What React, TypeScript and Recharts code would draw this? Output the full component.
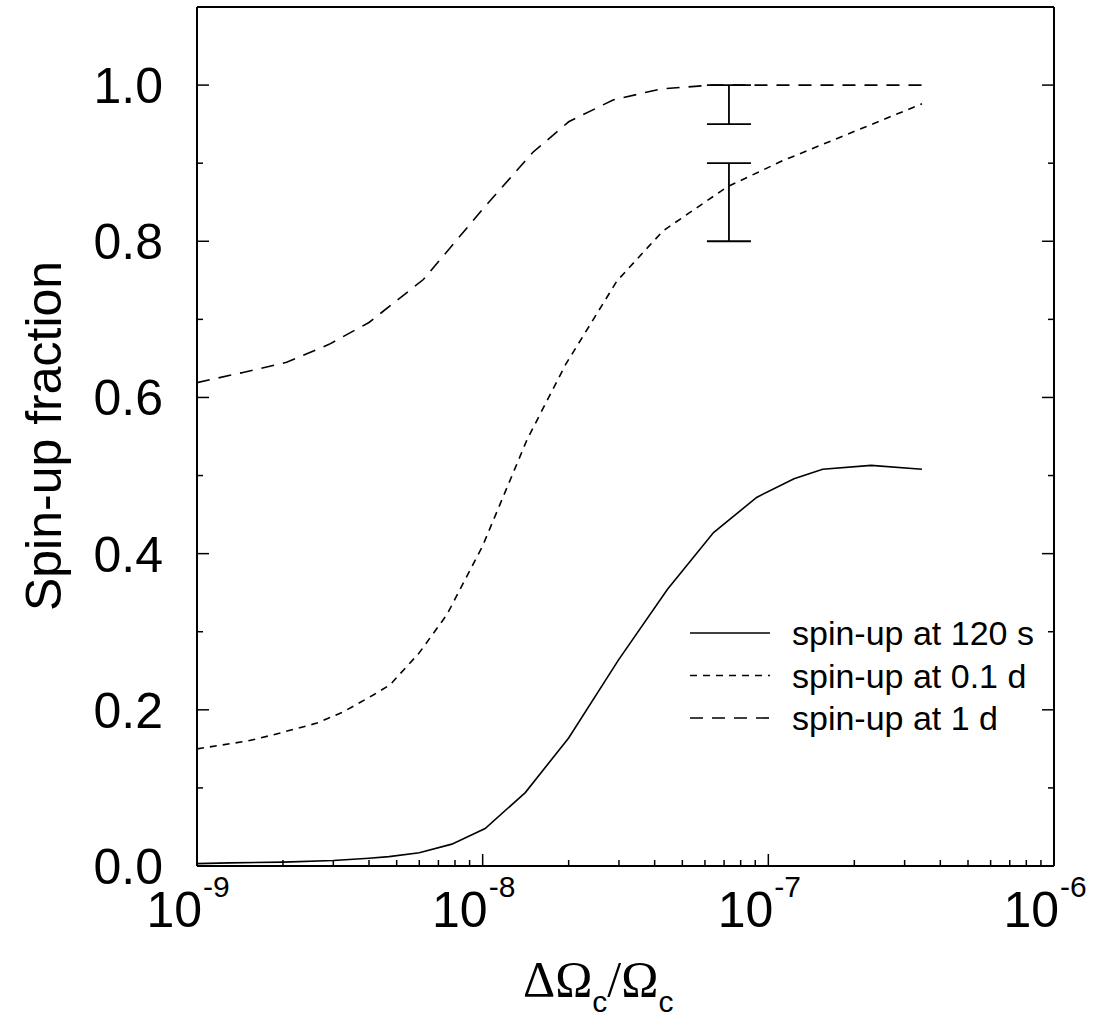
import React from "react";
import {
  ComposedChart,
  Line,
  Scatter,
  ErrorBar,
  XAxis,
  YAxis,
  Legend,
} from "recharts";

const sans = '"Liberation Sans", Arial, Helvetica, sans-serif';
const serif = '"Liberation Serif", "Times New Roman", Times, serif';

// spin-up fraction vs dOmega_c / Omega_c
const spin120s = [
  { x: 1e-9, y: 0.003 },
  { x: 1.3e-9, y: 0.004 },
  { x: 2e-9, y: 0.005 },
  { x: 3e-9, y: 0.007 },
  { x: 4e-9, y: 0.01 },
  { x: 4.7e-9, y: 0.012 },
  { x: 6e-9, y: 0.017 },
  { x: 7.8e-9, y: 0.028 },
  { x: 1.02e-8, y: 0.048 },
  { x: 1.41e-8, y: 0.094 },
  { x: 2.0e-8, y: 0.164 },
  { x: 2.99e-8, y: 0.264 },
  { x: 4.43e-8, y: 0.354 },
  { x: 6.43e-8, y: 0.427 },
  { x: 9.1e-8, y: 0.472 },
  { x: 1.23e-7, y: 0.496 },
  { x: 1.55e-7, y: 0.508 },
  { x: 2.29e-7, y: 0.513 },
  { x: 3.45e-7, y: 0.508 },
];

const spin01d = [
  { x: 1e-9, y: 0.15 },
  { x: 1.5e-9, y: 0.16 },
  { x: 1.85e-9, y: 0.168 },
  { x: 2.63e-9, y: 0.183 },
  { x: 3.24e-9, y: 0.197 },
  { x: 4.14e-9, y: 0.219 },
  { x: 4.74e-9, y: 0.232 },
  { x: 6e-9, y: 0.273 },
  { x: 7.5e-9, y: 0.322 },
  { x: 1.0e-8, y: 0.41 },
  { x: 1.43e-8, y: 0.546 },
  { x: 1.95e-8, y: 0.642 },
  { x: 2.95e-8, y: 0.749 },
  { x: 4.27e-8, y: 0.813 },
  { x: 7.2e-8, y: 0.87 },
  { x: 1.12e-7, y: 0.903 },
  { x: 3.45e-7, y: 0.976 },
];

const spin1d = [
  { x: 1e-9, y: 0.619 },
  { x: 1.45e-9, y: 0.632 },
  { x: 2.06e-9, y: 0.645 },
  { x: 2.9e-9, y: 0.668 },
  { x: 4.0e-9, y: 0.696 },
  { x: 6.2e-9, y: 0.751 },
  { x: 1.0e-8, y: 0.841 },
  { x: 1.5e-8, y: 0.914 },
  { x: 2.0e-8, y: 0.953 },
  { x: 2.86e-8, y: 0.981 },
  { x: 4.2e-8, y: 0.995 },
  { x: 6.3e-8, y: 1.0 },
  { x: 3.45e-7, y: 1.0 },
];

// observed ranges drawn as error bars
const observed = [
  { x: 7.28e-8, y: 0.975, err: 0.025 },
  { x: 7.28e-8, y: 0.85, err: 0.05 },
];

const series = [
  { name: "spin-up at 120 s", data: spin120s, dash: undefined },
  { name: "spin-up at 0.1 d", data: spin01d, dash: "7 6" },
  { name: "spin-up at 1 d", data: spin1d, dash: "13 9" },
];

const xMajor = [1e-9, 1e-8, 1e-7, 1e-6];
const xExponents = ["-9", "-8", "-7", "-6"];
const xMinorMult = [2, 3, 4, 5, 6, 7, 8, 9];
const xTicks = [
  ...xMajor,
  ...xMajor.slice(0, 3).flatMap((d) => xMinorMult.map((m) => m * d)),
];
const yTicks = [0, 0.1, 0.2, 0.3, 0.4, 0.5, 0.6, 0.7, 0.8, 0.9, 1.0];

const isMajorY = (v: number) => Math.round(v * 10) % 2 === 0;

function BottomTick(props: any) {
  const { x, y, payload } = props;
  const idx = xMajor.indexOf(payload.value);
  const major = idx >= 0;
  return (
    <g>
      <line x1={x} x2={x} y1={y} y2={y - (major ? 12 : 6)} stroke="#000" strokeWidth={1.5} />
      {major && (
        <>
          <text x={x + 5} y={y + 61} textAnchor="end" fontSize={50} fontFamily={sans} fill="#000">
            10
          </text>
          <text x={x + 6} y={y + 31} textAnchor="start" fontSize={30} fontFamily={sans} fill="#000">
            {xExponents[idx]}
          </text>
        </>
      )}
    </g>
  );
}

function TopTick(props: any) {
  const { x, y, payload } = props;
  const major = xMajor.indexOf(payload.value) >= 0;
  return <line x1={x} x2={x} y1={y} y2={y + (major ? 12 : 6)} stroke="#000" strokeWidth={1.5} />;
}

function LeftTick(props: any) {
  const { x, y, payload } = props;
  const major = isMajorY(payload.value);
  return (
    <g>
      <line x1={x} x2={x + (major ? 12 : 6)} y1={y} y2={y} stroke="#000" strokeWidth={1.5} />
      {major && (
        <text x={x - 34} y={y + 18} textAnchor="end" fontSize={50} fontFamily={sans} fill="#000">
          {payload.value.toFixed(1)}
        </text>
      )}
    </g>
  );
}

function RightTick(props: any) {
  const { x, y, payload } = props;
  const major = isMajorY(payload.value);
  return <line x1={x} x2={x - (major ? 12 : 6)} y1={y} y2={y} stroke="#000" strokeWidth={1.5} />;
}

function LegendBox() {
  return (
    <svg width={380} height={140}>
      {series.map((s, i) => {
        const cy = 33 + 42.5 * i;
        return (
          <g key={s.name}>
            <line x1={10} x2={90} y1={cy} y2={cy} stroke="#000" strokeWidth={1.6} strokeDasharray={s.dash} />
            <text x={112} y={cy + 12} fontSize={34} fontFamily={sans} fill="#000">
              {s.name}
            </text>
          </g>
        );
      })}
    </svg>
  );
}

const axisLine = { stroke: "#000", strokeWidth: 2 };

export default function App() {
  return (
    <div style={{ position: "absolute", left: 0, top: 0, background: "#fff" }}>
      <ComposedChart width={1094} height={1019} margin={{ top: 0, right: 0, bottom: 0, left: 0 }}>
        <XAxis
          dataKey="x"
          type="number"
          scale="log"
          domain={[1e-9, 1e-6]}
          allowDataOverflow
          ticks={xTicks}
          interval={0}
          tick={<BottomTick />}
          tickLine={false}
          tickSize={0}
          tickMargin={0}
          height={153}
          axisLine={axisLine}
          label={{
            content: () => (
              <text x={523} y={996} fontSize={50} fontFamily={serif} fill="#000">
                ΔΩ
                <tspan fontSize={30} fontFamily={sans} dy={16}>c</tspan>
                <tspan fontSize={50} fontFamily={serif} dy={-16}>/Ω</tspan>
                <tspan fontSize={30} fontFamily={sans} dy={16}>c</tspan>
              </text>
            ),
          }}
        />
        <XAxis
          xAxisId="top"
          orientation="top"
          type="number"
          scale="log"
          domain={[1e-9, 1e-6]}
          allowDataOverflow
          ticks={xTicks}
          interval={0}
          tick={<TopTick />}
          tickLine={false}
          tickSize={0}
          tickMargin={0}
          height={7}
          axisLine={axisLine}
        />
        <YAxis
          type="number"
          domain={[0, 1.1]}
          allowDataOverflow
          ticks={yTicks}
          interval={0}
          tick={<LeftTick />}
          tickLine={false}
          tickSize={0}
          tickMargin={0}
          width={197}
          axisLine={axisLine}
          label={{
            content: () => (
              <text
                x={61}
                y={436}
                transform="rotate(-90 61 436)"
                textAnchor="middle"
                fontSize={50}
                fontFamily={sans}
                fill="#000"
              >
                Spin-up fraction
              </text>
            ),
          }}
        />
        <YAxis
          yAxisId="right"
          orientation="right"
          type="number"
          domain={[0, 1.1]}
          allowDataOverflow
          ticks={yTicks}
          interval={0}
          tick={<RightTick />}
          tickLine={false}
          tickSize={0}
          tickMargin={0}
          width={40}
          axisLine={axisLine}
        />
        {series.map((s) => (
          <Line
            key={s.name}
            name={s.name}
            data={s.data}
            dataKey="y"
            type="linear"
            stroke="#000"
            strokeWidth={1.6}
            strokeDasharray={s.dash}
            dot={false}
            activeDot={false}
            isAnimationActive={false}
          />
        ))}
        <Scatter data={observed} dataKey="y" shape={() => <g />} isAnimationActive={false}>
          <ErrorBar dataKey="err" direction="y" width={22} stroke="#000" strokeWidth={1.8} isAnimationActive={false} />
        </Scatter>
        <Legend
          layout="vertical"
          align="center"
          verticalAlign="middle"
          content={() => <LegendBox />}
          wrapperStyle={{ left: 680, top: 600, width: 380, height: 140 }}
        />
      </ComposedChart>
    </div>
  );
}
